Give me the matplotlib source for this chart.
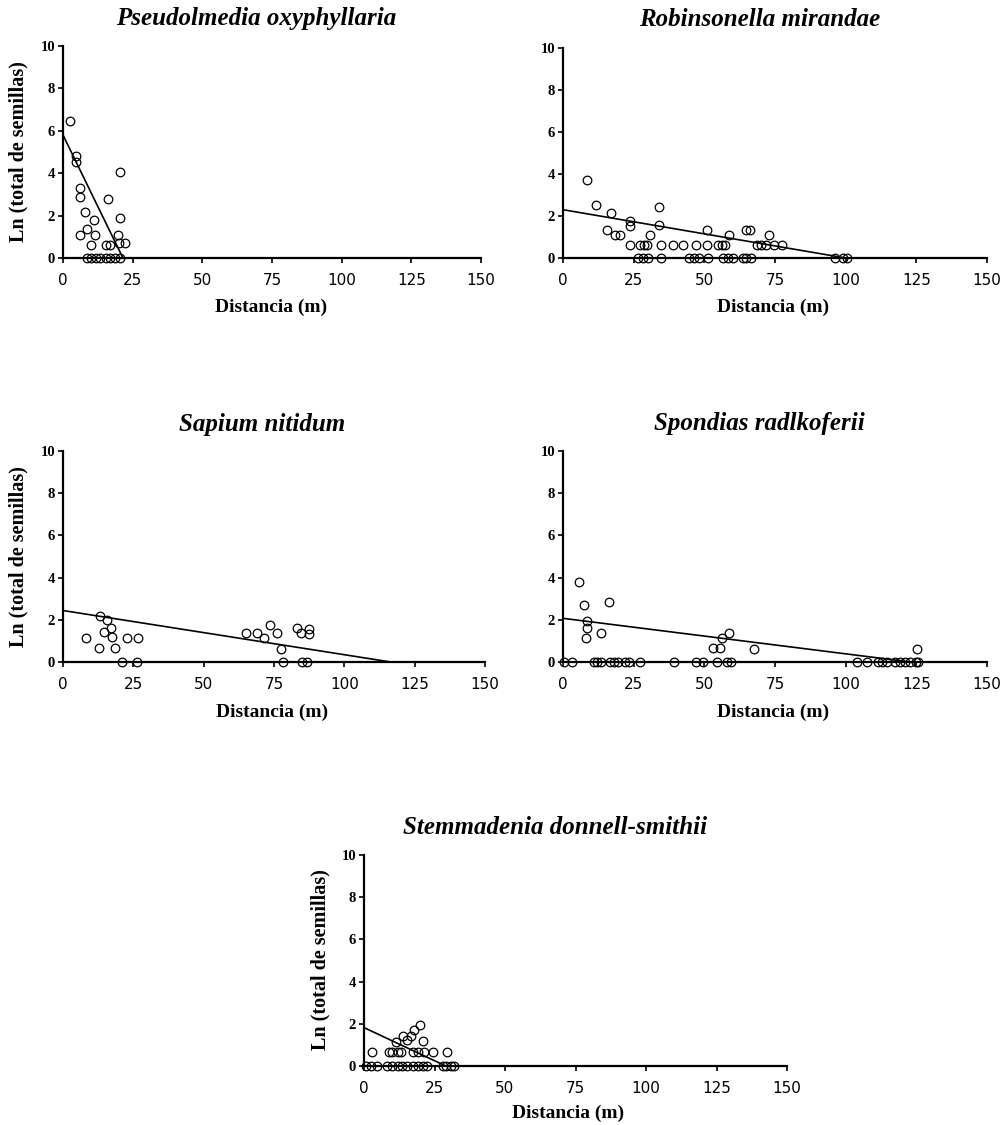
import matplotlib.pyplot as plt
import numpy as np

W, H = 1007, 1125
SERIF = "Liberation Serif"

titles = ["Pseudolmedia oxyphyllaria", "Robinsonella mirandae", "Sapium nitidum",
          "Spondias radlkoferii", "Stemmadenia donnell-smithii"]

# Pseudolmedia oxyphyllaria
po_x = [2.4, 4.6, 4.6, 6.0, 6.0, 7.8, 8.6, 6.2, 11.0, 11.4, 10.2, 16.2, 15.6, 16.8,
        20.4, 20.6, 19.8, 20.2, 22.2]
po_y = [6.46, 4.8, 4.54, 3.3, 2.87, 2.17, 1.37, 1.1, 1.78, 1.1, 0.63, 2.8, 0.63, 0.63,
        4.06, 1.89, 1.1, 0.69, 0.69]
po_zero = [8.6, 10.2, 12.0, 13.2, 15.6, 16.8, 18.6, 20.4]
po_fit = (5.8, 21.5)  # intercept, distance where the line reaches 0

# Robinsonella mirandae
rm_x = [8.5, 11.6, 17.1, 15.6, 18.5, 20.3, 23.6, 23.6, 23.8, 27.2, 28.6, 29.8, 30.9,
        34.0, 33.9, 34.8, 39.0, 42.5, 47.2, 50.8, 51.0, 54.9, 56.1, 57.3, 58.8, 64.9,
        66.1, 68.5, 70.2, 71.8, 73.0, 74.6, 77.6]
rm_y = [3.72, 2.53, 2.14, 1.34, 1.08, 1.08, 1.77, 1.53, 0.6, 0.6, 0.6, 0.6, 1.1,
        2.45, 1.55, 0.6, 0.6, 0.6, 0.6, 0.6, 1.34, 0.6, 0.6, 0.6, 1.1, 1.34,
        1.34, 0.6, 0.6, 0.6, 1.1, 0.6, 0.6]
rm_zero = [26.6, 28.3, 30.1, 34.8, 44.6, 46.3, 48.2, 51.4, 56.7, 58.4, 60.2, 63.7,
           64.9, 66.4, 96.2, 99.2, 100.4]
rm_fit = (2.3, 100.0)

# Sapium nitidum
sn_x = [8.3, 13.3, 12.9, 14.6, 15.8, 17.0, 17.5, 18.5, 22.9, 26.8, 65.1, 69.0, 71.4,
        73.5, 76.2, 77.6, 83.3, 84.5, 87.5, 87.5]
sn_y = [1.13, 2.19, 0.66, 1.4, 1.97, 1.6, 1.17, 0.66, 1.13, 1.13, 1.37, 1.37, 1.13,
        1.73, 1.37, 0.61, 1.6, 1.37, 1.56, 1.32]
sn_zero = [21.1, 26.2, 78.2, 84.9, 86.9]
sn_fit = (2.44, 116.5)

# Spondias radlkoferii
sr_x = [5.7, 7.4, 16.3, 8.6, 8.6, 8.0, 13.3, 52.9, 55.5, 56.1, 58.8, 67.7, 125.4]
sr_y = [3.81, 2.68, 2.82, 1.92, 1.6, 1.13, 1.37, 0.66, 0.66, 1.13, 1.37, 0.63, 0.63]
sr_zero = [0.2, 3.3, 10.9, 12.0, 13.6, 16.8, 17.9, 19.5, 21.8, 23.4, 27.2, 39.2, 47.2,
           49.6, 54.5, 58.1, 59.3, 103.9, 107.4, 111.6, 112.7, 114.5, 117.5, 119.2,
           121.0, 122.8, 124.9, 125.7]
sr_fit = (2.07, 123.0)

# Stemmadenia donnell-smithii
sd_x = [2.7, 8.9, 10.1, 11.9, 13.0, 11.3, 13.9, 15.4, 16.8, 17.8, 19.9, 17.2, 19.0,
        20.8, 21.4, 24.3, 29.3]
sd_y = [0.66, 0.66, 0.66, 0.66, 0.66, 1.14, 1.41, 1.22, 1.41, 1.69, 1.96, 0.66, 0.66,
        1.19, 0.66, 0.66, 0.66]
sd_zero = [0.6, 2.4, 4.7, 8.3, 10.1, 11.9, 13.6, 15.4, 17.2, 19.0, 20.8, 22.5, 27.9,
           29.1, 30.8, 31.8]
sd_fit = (1.82, 29.0)

panels = [(po_x, po_y, po_zero, po_fit), (rm_x, rm_y, rm_zero, rm_fit),
          (sn_x, sn_y, sn_zero, sn_fit), (sr_x, sr_y, sr_zero, sr_fit),
          (sd_x, sd_y, sd_zero, sd_fit)]

# axes boxes in pixels: left, top, right, bottom
boxes = [(63, 46, 481, 258), (563, 48, 987, 258), (63, 451, 485, 662),
         (563, 451, 987, 662), (364, 855, 787, 1066)]
title_pos = [(256, 19), (760, 20), (262, 425), (759, 424), (555, 828)]
xlab_pos = [(271, 307), (773, 307), (272, 712), (773, 712), (568, 1113)]
ylab_pos = {0: (18, 152), 2: (18, 557), 4: (320, 960)}

fig = plt.figure(figsize=(W / 100, H / 100), dpi=100)

for i, (xs, ys, zs, fit) in enumerate(panels):
    l, t, r, b = boxes[i]
    ax = fig.add_axes([l / W, 1 - b / H, (r - l) / W, (b - t) / H])
    ax.plot([0, fit[1]], [fit[0], 0], color="black", lw=1.2)
    ax.plot(xs, ys, "o", ms=6.2, mfc="none", mec="black", mew=0.9, clip_on=False)
    ax.plot(zs, np.zeros(len(zs)), "o", ms=6.2, mfc="none", mec="black", mew=0.9,
            clip_on=False)
    ax.set_xlim(0, 150)
    ax.set_ylim(0, 10)
    ax.set_xticks([0, 25, 50, 75, 100, 125, 150])
    ax.set_yticks([0, 2, 4, 6, 8, 10])
    for s in ["top", "right"]:
        ax.spines[s].set_visible(False)
    for s in ["left", "bottom"]:
        ax.spines[s].set_linewidth(1.6)
    ax.tick_params(axis="x", direction="out", length=3.6, width=1.2, labelsize=11, pad=7)
    ax.tick_params(axis="y", direction="out", length=3.6, width=1.2, labelsize=10.5, pad=2)
    for lab in ax.get_yticklabels():
        lab.set_fontfamily(SERIF)
        lab.set_fontweight("bold")
    for lab in ax.get_xticklabels():
        lab.set_fontfamily("DejaVu Sans")

    tx, ty = title_pos[i]
    fig.text(tx / W, 1 - ty / H, titles[i], ha="center", va="center", family=SERIF,
             weight="bold", style="italic", fontsize=18)
    lx, ly = xlab_pos[i]
    fig.text(lx / W, 1 - ly / H, "Distancia (m)", ha="center", va="center",
             family=SERIF, weight="bold", fontsize=14)
    if i in ylab_pos:
        yx, yy = ylab_pos[i]
        fig.text(yx / W, 1 - yy / H, "Ln (total de semillas)", ha="center",
                 va="center", rotation=90, family=SERIF, weight="bold", fontsize=14.5)

fig.savefig("out.png", dpi=100)
